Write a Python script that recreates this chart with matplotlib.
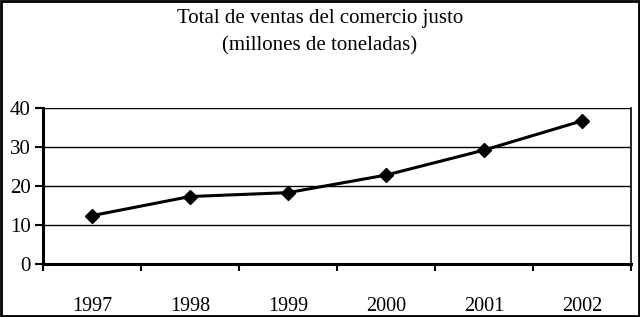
import matplotlib.pyplot as plt
import numpy as np
from matplotlib.patches import Rectangle

plt.rcParams['font.family'] = ['Liberation Serif', 'DejaVu Serif']

# Data
years = ["1997", "1998", "1999", "2000", "2001", "2002"]
ventas = [12.4, 17.3, 18.3, 22.8, 29.2, 36.7]
y_ticks = [0, 10, 20, 30, 40]

fig = plt.figure(figsize=(6.4, 3.17), dpi=100)
ax = fig.add_axes([43 / 640, 1 - 264 / 317, 588 / 640, 156 / 317])

x = np.arange(len(years)) + 0.5
ax.plot(x, ventas, color="black", lw=2.2, marker="D", markersize=7, zorder=3)

ax.set_xlim(0, len(years))
ax.set_ylim(0, 40)
ax.set_yticks(y_ticks)
ax.set_yticklabels([str(v) for v in y_ticks], fontsize=15)

# category ticks between the years, labels centred on the years
ax.set_xticks(np.arange(len(years) + 1))
ax.set_xticklabels([])
ax.set_xticks(x, minor=True)
ax.set_xticklabels(years, minor=True, fontsize=14.5)
ax.tick_params(axis="x", which="minor", length=0, pad=24)
ax.tick_params(axis="x", which="major", length=5, width=1.5, direction="out")
ax.tick_params(axis="y", length=6, width=1.5, direction="out", pad=3)

ax.grid(axis="y", color="black", lw=1)
ax.set_axisbelow(True)

for side in ["left", "bottom"]:
    ax.spines[side].set_linewidth(2.2)
ax.spines["top"].set_visible(False)
ax.spines["right"].set_linewidth(1.2)

fig.text(0.5, 1 - 19 / 317, "Total de ventas del comercio justo",
         ha="center", va="center", fontsize=15)
fig.text(0.5, 1 - 46 / 317, "(millones de toneladas)",
         ha="center", va="center", fontsize=15)

# outer frame
fig.patches.append(Rectangle((0.002, 0.003), 0.996, 0.994, transform=fig.transFigure,
                             fill=False, edgecolor="black", lw=2))

plt.savefig("out.png", dpi=100)
